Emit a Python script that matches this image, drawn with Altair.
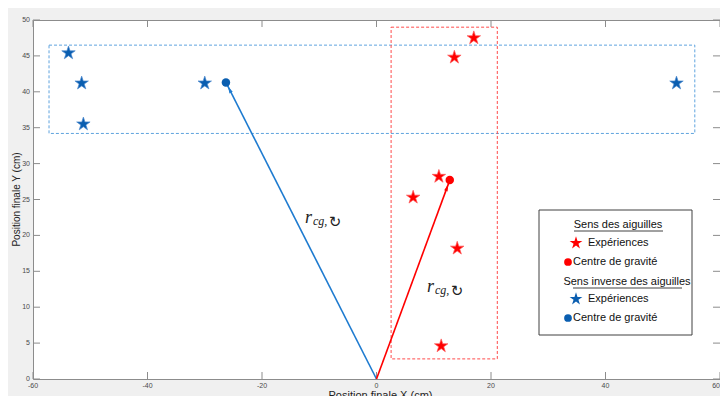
import math
import altair as alt
import pandas as pd

# ---------------- data ----------------
red_x = [17.0, 13.6, 10.9, 6.4, 14.1, 11.3]
red_y = [47.5, 44.8, 28.2, 25.3, 18.2, 4.6]
blue_x = [-53.8, -51.5, -51.2, -30.0, 52.4]
blue_y = [45.4, 41.2, 35.5, 41.2, 41.2]
red_cg = [12.8, 27.7]
blue_cg = [-26.3, 41.3]
red_box = [2.55, 21.1, 2.8, 49.0]     # x1, x2, y1, y2
blue_box = [-57.2, 55.6, 34.2, 46.5]  # x1, x2, y1, y2
x_ticks = [-60, -40, -20, 0, 20, 40, 60]
y_ticks = [0, 5, 10, 15, 20, 25, 30, 35, 40, 45, 50]
x_title = "Position finale X (cm)"
y_title = "Position finale Y (cm)"
legend_headers = ["Sens des aiguilles", "Sens inverse des aiguilles"]
legend_items = ["Expériences", "Centre de gravité"]
annot_parts = ["r", "cg,", "↻"]

# ---------------- styles ----------------
W, H = 687, 359
RED = "#ff0000"
BLUE_PT = "#0a5eb0"
BLUE_LINE = "#1e7bd0"
BLUE_DASH = "#5ea3de"
RED_DASH = "#ff4a4a"
AX = "#8c8c8c"
LBL = "#4a4a4a"
FONT = "Liberation Sans"
STAR = ("M0,-1L0.2245,-0.309L0.9511,-0.309L0.3633,0.118L0.5878,0.809L0,0.382"
        "L-0.5878,0.809L-0.3633,0.118L-0.9511,-0.309L-0.2245,-0.309Z")

xs = alt.Scale(domain=[-60, 60], nice=False, zero=False)
ys = alt.Scale(domain=[0, 50], nice=False, zero=False)


def X(f):
    return alt.X(f, type="quantitative", scale=xs, axis=None)


def Y(f):
    return alt.Y(f, type="quantitative", scale=ys, axis=None)


# ---------------- axis ticks & labels (box style, inward ticks) ----------------
xt = pd.DataFrame({"v": x_ticks, "t": [str(v) for v in x_ticks]})
yt = pd.DataFrame({"v": y_ticks, "t": [str(v) for v in y_ticks]})
x_max = max(x_ticks)
tick_bot = alt.Chart(xt).mark_rule(color=AX, strokeWidth=1).encode(
    x=X("v"), y=alt.value(H), y2=alt.value(H - 7))
tick_top = alt.Chart(xt).mark_rule(color=AX, strokeWidth=1).encode(
    x=X("v"), y=alt.value(0), y2=alt.value(7))
tick_left = alt.Chart(yt).mark_rule(color=AX, strokeWidth=1).encode(
    y=Y("v"), x=alt.value(0), x2=alt.value(7))
tick_right = alt.Chart(yt).mark_rule(color=AX, strokeWidth=1).encode(
    y=Y("v"), x=alt.value(W), x2=alt.value(W - 7))
xlab = alt.Chart(xt).transform_filter(alt.datum.v < x_max).mark_text(
    font=FONT, fontSize=7, color=LBL, align="center", baseline="top").encode(
    x=X("v"), y=alt.value(H + 3), text="t:N")
xlab_last = alt.Chart(xt).transform_filter(alt.datum.v >= x_max).mark_text(
    font=FONT, fontSize=7, color=LBL, align="right", baseline="top").encode(
    x=X("v"), y=alt.value(H + 3), text="t:N")
ylab = alt.Chart(yt).mark_text(font=FONT, fontSize=7, color=LBL, align="right",
                               baseline="middle").encode(
    y=Y("v"), x=alt.value(-3), text="t:N")
xtit = alt.Chart(alt.Data(values=[{"t": x_title}])).mark_text(
    font=FONT, fontSize=11, color="#222222", align="center", baseline="top").encode(
    x=alt.value(W / 2 + 4), y=alt.value(H + 11), text="t:N")
ytit = alt.Chart(alt.Data(values=[{"t": y_title}])).mark_text(
    font=FONT, fontSize=10, color="#222222", align="center", baseline="middle",
    angle=270).encode(
    x=alt.value(-16), y=alt.value(H / 2), text="t:N")

# ---------------- dashed boxes ----------------
boxes = pd.DataFrame({"x1": [blue_box[0], red_box[0]], "x2": [blue_box[1], red_box[1]],
                      "y1": [blue_box[2], red_box[2]], "y2": [blue_box[3], red_box[3]],
                      "c": [BLUE_DASH, RED_DASH]})
box_layer = alt.Chart(boxes).mark_rect(fillOpacity=0, strokeWidth=1,
                                       strokeDash=[3, 2]).encode(
    x=X("x1"), x2="x2", y=Y("y1"), y2="y2",
    stroke=alt.Stroke("c:N", scale=None))

# ---------------- vectors ----------------
px_x = W / 120.0
px_y = H / 50.0
vec_rows = []
for cg, col in [(blue_cg, BLUE_LINE), (red_cg, RED)]:
    dxp, dyp = cg[0] * px_x, cg[1] * px_y
    L = math.hypot(dxp, dyp)
    back = 8.0
    vec_rows.append({"x0": 0.0, "y0": 0.0, "x1": cg[0], "y1": cg[1], "c": col,
                     "hx": cg[0] - back * dxp / L / px_x,
                     "hy": cg[1] - back * dyp / L / px_y,
                     "ang": math.degrees(math.atan2(dxp, dyp)) % 360})
vecs = pd.DataFrame(vec_rows)
vec_lines = alt.Chart(vecs).mark_rule(strokeWidth=1.6).encode(
    x=X("x0"), y=Y("y0"), x2="x1", y2="y1", color=alt.Color("c:N", scale=None))
vec_heads = alt.Chart(vecs).mark_point(shape="M0,-1L0.55,1L-0.55,1Z", filled=True,
                                       opacity=1, size=45, strokeWidth=0).encode(
    x=X("hx"), y=Y("hy"), color=alt.Color("c:N", scale=None),
    angle=alt.Angle("ang:Q", scale=None))

# ---------------- points ----------------
pts = pd.DataFrame({
    "x": red_x + blue_x,
    "y": red_y + blue_y,
    "c": [RED] * len(red_x) + [BLUE_PT] * len(blue_x),
    "s": ["#ff5a5a"] * len(red_x) + ["#4f8bd0"] * len(blue_x),
})
stars = alt.Chart(pts).mark_point(shape=STAR, filled=True, size=200, opacity=1,
                                  strokeWidth=0.7).encode(
    x=X("x"), y=Y("y"), fill=alt.Fill("c:N", scale=None),
    stroke=alt.Stroke("s:N", scale=None))

cgs = pd.DataFrame({"x": [red_cg[0], blue_cg[0]], "y": [red_cg[1], blue_cg[1]],
                    "c": [RED, BLUE_PT]})
cg_pts = alt.Chart(cgs).mark_circle(size=72, opacity=1).encode(
    x=X("x"), y=Y("y"), color=alt.Color("c:N", scale=None))

# ---------------- annotations r_{cg,↻} ----------------
def annot(xr, yb):
    r = alt.Chart(alt.Data(values=[{"t": annot_parts[0]}])).mark_text(
        font="Liberation Serif", fontStyle="italic", fontSize=18, align="left",
        baseline="alphabetic", color="#222222").encode(
        text="t:N", x=alt.value(xr), y=alt.value(yb))
    sub = alt.Chart(alt.Data(values=[{"t": annot_parts[1]}])).mark_text(
        font="Liberation Serif", fontStyle="italic", fontSize=12, align="left",
        baseline="alphabetic", color="#222222").encode(
        text="t:N", x=alt.value(xr + 8), y=alt.value(yb + 2))
    circ = alt.Chart(alt.Data(values=[{"t": annot_parts[2]}])).mark_text(
        font="DejaVu Sans", fontSize=15, align="center", baseline="middle",
        color="#222222").encode(
        text="t:N", x=alt.value(xr + 30), y=alt.value(yb - 1))
    return [r, sub, circ]


annots = annot(272, 203) + annot(394, 272)

# ---------------- legend ----------------
def single():
    return alt.Data(values=[{"k": 0}])


lg = []
lg.append(alt.Chart(single()).mark_rect(fill="white", stroke="#404040",
                                        strokeWidth=1).encode(
    x=alt.value(506), x2=alt.value(659), y=alt.value(190), y2=alt.value(315)))


def ltext(t, x, y, align="left"):
    return alt.Chart(alt.Data(values=[{"t": t}])).mark_text(
        font=FONT, fontSize=11, align=align, baseline="middle",
        color="#111111").encode(text="t:N", x=alt.value(x), y=alt.value(y))


def uline(x1, x2, y):
    return alt.Chart(single()).mark_rule(color="#111111", strokeWidth=0.8).encode(
        x=alt.value(x1), x2=alt.value(x2), y=alt.value(y))


def lsym(shape, color, x, y, size):
    return alt.Chart(single()).mark_point(shape=shape, filled=True, size=size,
                                          opacity=1, strokeWidth=0,
                                          color=color).encode(
        x=alt.value(x), y=alt.value(y))


lg += [ltext(legend_headers[0], 585, 205, "center"), uline(541, 630, 211)]
lg += [lsym(STAR, RED, 543, 223, 180), ltext(legend_items[0], 555, 223)]
lg += [lsym("circle", RED, 535, 242, 60), ltext(legend_items[1], 540, 242)]
lg += [ltext(legend_headers[1], 594, 262, "center"), uline(540, 649, 268)]
lg += [lsym(STAR, BLUE_PT, 543, 279, 180), ltext(legend_items[0], 555, 279)]
lg += [lsym("circle", BLUE_PT, 535, 298, 60), ltext(legend_items[1], 540, 298)]

layers = [tick_bot, tick_top, tick_left, tick_right, xlab, xlab_last, ylab, xtit,
          ytit, box_layer, vec_lines, vec_heads, stars, cg_pts] + annots + lg

chart = alt.layer(*layers).properties(
    width=W, height=H,
    autosize=alt.AutoSizeParams(type="none"),
    padding={"left": 25, "top": 12, "right": 0, "bottom": 17},
    background="#f0f0f0",
).configure_view(stroke=AX, strokeWidth=1, fill="white")

chart.save("out.html", embed_options={"renderer": "svg", "actions": False})
